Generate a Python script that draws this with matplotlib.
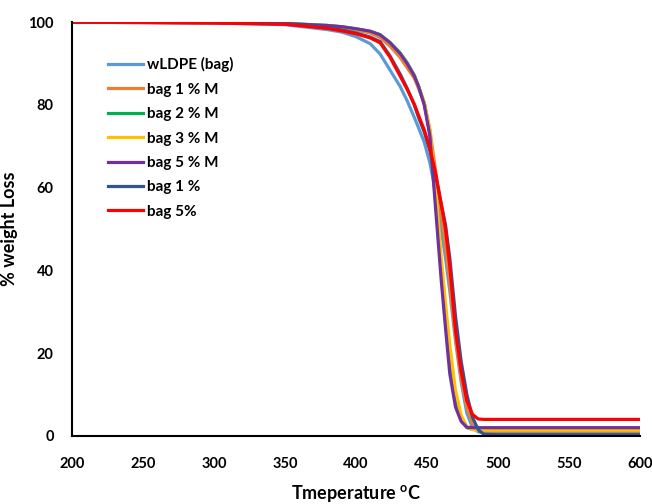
import matplotlib.pyplot as plt

# temperature readings (deg C) shared by all curves
temps = [200, 300, 350, 380, 390, 400, 410, 417, 424, 431, 436, 441, 444, 448,
         452, 456, 460, 463, 466, 470, 474, 478, 482, 486, 490, 500, 600]

wldpe = [100, 99.8, 99.4, 98.2, 97.6, 96.5, 94.8, 92.3, 88.4, 84.5, 81.0, 77.0,
         74.5, 71.0, 66.0, 59.0, 50.0, 43.0, 35.0, 23.0, 13.0, 5.5, 2.0, 1.0,
         0.8, 0.8, 0.8]
bag1m = [100, 99.9, 99.6, 99.0, 98.7, 98.1, 97.4, 96.3, 94.2, 91.5, 89.0, 86.5,
         84.0, 80.5, 74.0, 64.0, 54.0, 46.0, 37.0, 24.0, 14.0, 7.0, 3.0, 1.5,
         1.2, 1.2, 1.2]
bag2m = [100, 99.9, 99.7, 99.2, 98.9, 98.4, 97.8, 97.0, 95.1, 92.6, 90.2, 87.2,
         84.5, 80.5, 73.0, 57.0, 40.0, 29.0, 19.0, 9.0, 4.0, 2.0, 1.6, 1.6,
         1.6, 1.6, 1.6]
bag3m = [100, 99.9, 99.7, 99.2, 98.8, 98.3, 97.7, 96.8, 94.9, 92.3, 90.0, 87.0,
         84.5, 80.5, 74.0, 60.0, 43.0, 32.0, 22.0, 11.0, 5.0, 2.2, 1.5, 1.4,
         1.4, 1.4, 1.4]
bag5m = [100, 99.9, 99.7, 99.2, 98.9, 98.4, 97.8, 96.9, 95.0, 92.4, 90.0, 87.0,
         84.5, 80.0, 72.5, 55.0, 37.5, 26.0, 15.0, 7.0, 3.5, 2.1, 2.0, 2.0,
         2.0, 2.0, 2.0]
bag1 = [100, 99.9, 99.6, 98.7, 98.1, 97.4, 96.4, 95.3, 91.8, 87.5, 84.0, 80.0,
        77.0, 73.5, 69.0, 63.0, 56.0, 51.0, 43.0, 29.0, 18.0, 10.0, 4.5, 1.5,
        0.4, 0.3, 0.3]
bag5 = [100, 99.8, 99.5, 98.5, 97.9, 97.2, 96.2, 95.0, 91.5, 87.0, 83.8, 80.2,
        77.5, 74.0, 69.5, 63.5, 56.0, 50.0, 41.0, 25.5, 15.5, 8.5, 5.2, 4.1,
        4.0, 4.0, 4.0]

names = ['wLDPE (bag)', 'bag 1 % M', 'bag 2 % M', 'bag 3 % M', 'bag 5 % M',
         'bag 1 %', 'bag 5%']
colors = ['#5B9BD5', '#ED7D31', '#00B050', '#FFC000', '#7030A0', '#2F5597', '#FF0000']
series = [wldpe, bag1m, bag2m, bag3m, bag5m, bag1, bag5]

plt.rcParams['font.family'] = ['Lato', 'DejaVu Sans']

fig = plt.figure(figsize=(6.52, 5.04), dpi=100)
ax = fig.add_axes([0.110, 0.135, 0.872, 0.821])

for name, col, vals in zip(names, colors, series):
    ax.plot(temps, vals, color=col, lw=2.3, label=name, solid_joinstyle='round')

ax.set_xlim(200, 600)
ax.set_ylim(0, 100)
ax.set_xticks(range(200, 601, 50))
ax.set_yticks(range(0, 101, 20))
ax.tick_params(length=0, labelsize=10.5)
ax.tick_params(axis='x', pad=15)
ax.tick_params(axis='y', pad=13)
for lab in ax.get_xticklabels() + ax.get_yticklabels():
    lab.set_fontweight('bold')

for s in ['top', 'right']:
    ax.spines[s].set_visible(False)
for s in ['left', 'bottom']:
    ax.spines[s].set_linewidth(1.5)
    ax.spines[s].set_color('black')

ax.set_xlabel('Tmeperature $^{\\mathregular{o}}$C', fontsize=13, fontweight='bold', labelpad=9)
ax.set_ylabel('% weight Loss', fontsize=13, fontweight='bold')
ax.yaxis.set_label_coords(-0.094, 0.5)

leg = ax.legend(loc='upper left', bbox_to_anchor=(0.063, 0.915), frameon=False,
                fontsize=11, handlelength=2.3, handletextpad=0.3,
                labelspacing=0.68, borderpad=0, borderaxespad=0)
for t in leg.get_texts():
    t.set_fontweight('bold')

fig.savefig('out.png', dpi=100)
